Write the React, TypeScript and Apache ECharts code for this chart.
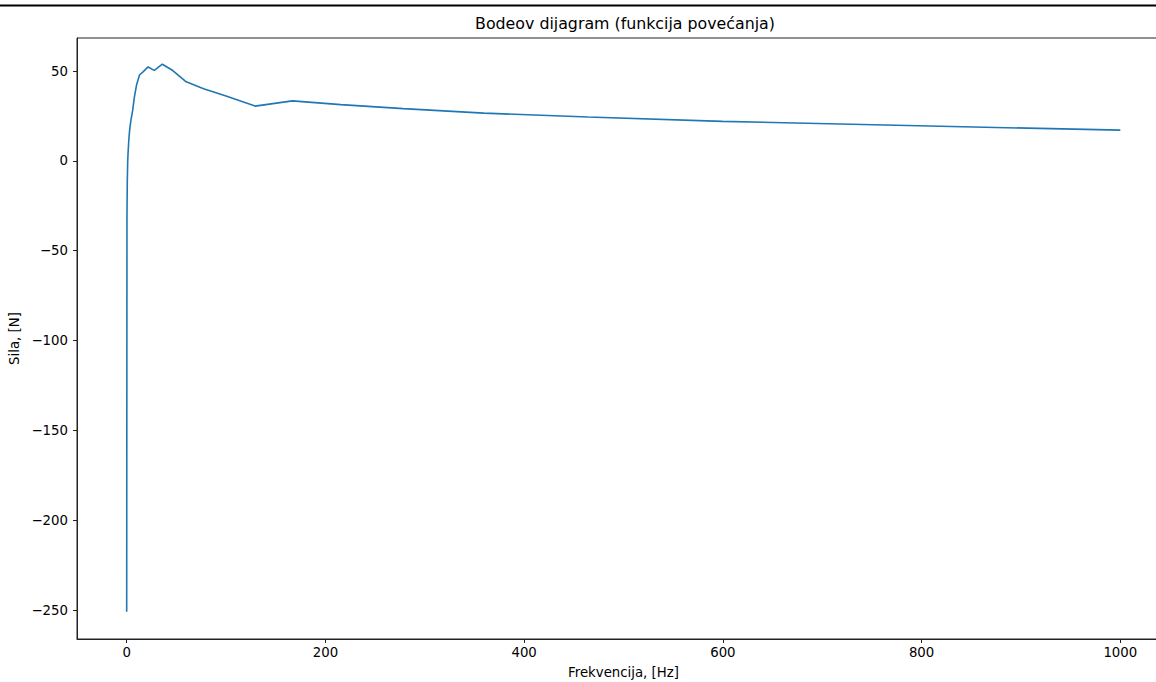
import React, { useEffect, useRef } from "react";
import * as echarts from "echarts";

const frequencies: number[] = [
  0, 0.3, 0.6, 1, 1.29, 1.67, 2.15, 2.78, 3.59, 4.64, 5.99, 7.74, 10, 12.9, 16.7,
  21.5, 27.8, 35.9, 46.4, 59.9, 77.4, 100, 129.2, 166.8, 215.4, 278.3, 359.4,
  464.2, 599.5, 774.3, 1000,
];
const forces: number[] = [
  -251, -30, -12, -0.7, 3.2, 7, 11.6, 16, 20, 23.8, 28, 35.5, 42.4, 47.8, 49.7,
  52.3, 50.4, 53.8, 50.3, 44.0, 40.1, 36.1, 30.5, 33.4, 31.3, 29.1, 26.6, 24.4,
  22.0, 19.8, 17.1,
];
const xTicks: number[] = [0, 200, 400, 600, 800, 1000];
const yTicks: number[] = [-250, -200, -150, -100, -50, 0, 50];

const titleText = "Bodeov dijagram (funkcija povećanja)";
const xName = "Frekvencija, [Hz]";
const yName = "Sila, [N]";

const FONT = "DejaVu Sans";
const minusFmt = (v: number) => String(v).replace("-", "\u2212");

export default function App() {
  const ref = useRef<HTMLDivElement>(null);
  useEffect(() => {
    if (!ref.current) return;
    const chart = echarts.init(ref.current, undefined, { renderer: "svg" });
    const data = frequencies.map((f, i) => [f, forces[i]]);
    chart.setOption({
      animation: false,
      backgroundColor: "#ffffff",
      title: {
        text: titleText,
        left: 620,
        top: 10,
        textAlign: "center",
        textStyle: { fontFamily: FONT, fontSize: 15.8, fontWeight: "normal", color: "#000" },
      },
      grid: {
        left: 77,
        right: -14,
        top: 38,
        bottom: 43,
        containLabel: false,
        outerBoundsMode: "none",
        show: true,
        borderColor: "#222",
        borderWidth: 1,
        backgroundColor: "transparent",
      },
      xAxis: {
        type: "value",
        min: -50,
        max: 1050,
        name: xName,
        nameLocation: "middle",
        nameGap: 27,
        nameTextStyle: { fontFamily: FONT, fontSize: 13.3, color: "#000" },
        axisLine: { show: true, onZero: false, lineStyle: { color: "#222", width: 1 } },
        axisTick: { show: true, length: 4, customValues: xTicks, lineStyle: { color: "#222" } },
        axisLabel: {
          customValues: xTicks,
          margin: 7,
          fontFamily: FONT,
          fontSize: 13.3,
          color: "#000",
          formatter: minusFmt,
        },
        splitLine: { show: false },
      },
      yAxis: {
        type: "value",
        min: -266.1,
        max: 68.4,
        name: yName,
        nameLocation: "middle",
        nameGap: 44,
        nameTextStyle: { fontFamily: FONT, fontSize: 13.3, color: "#000" },
        axisLine: { show: true, onZero: false, lineStyle: { color: "#222", width: 1 } },
        axisTick: { show: true, length: 4, customValues: yTicks, lineStyle: { color: "#222" } },
        axisLabel: {
          customValues: yTicks,
          margin: 9,
          fontFamily: FONT,
          fontSize: 13.3,
          color: "#000",
          formatter: minusFmt,
        },
        splitLine: { show: false },
      },
      graphic: [
        {
          type: "rect",
          shape: { x: 0, y: 4.5, width: 1156, height: 2 },
          style: { fill: "#000" },
        },
      ],
      series: [
        {
          type: "line",
          data,
          showSymbol: false,
          symbol: "none",
          lineStyle: { color: "#1f77b4", width: 1.6 },
        },
      ],
    });
    return () => chart.dispose();
  }, []);
  return (
    <div
      ref={ref}
      style={{ position: "fixed", left: 0, top: 0, width: 1156, height: 682, background: "#fff" }}
    />
  );
}
